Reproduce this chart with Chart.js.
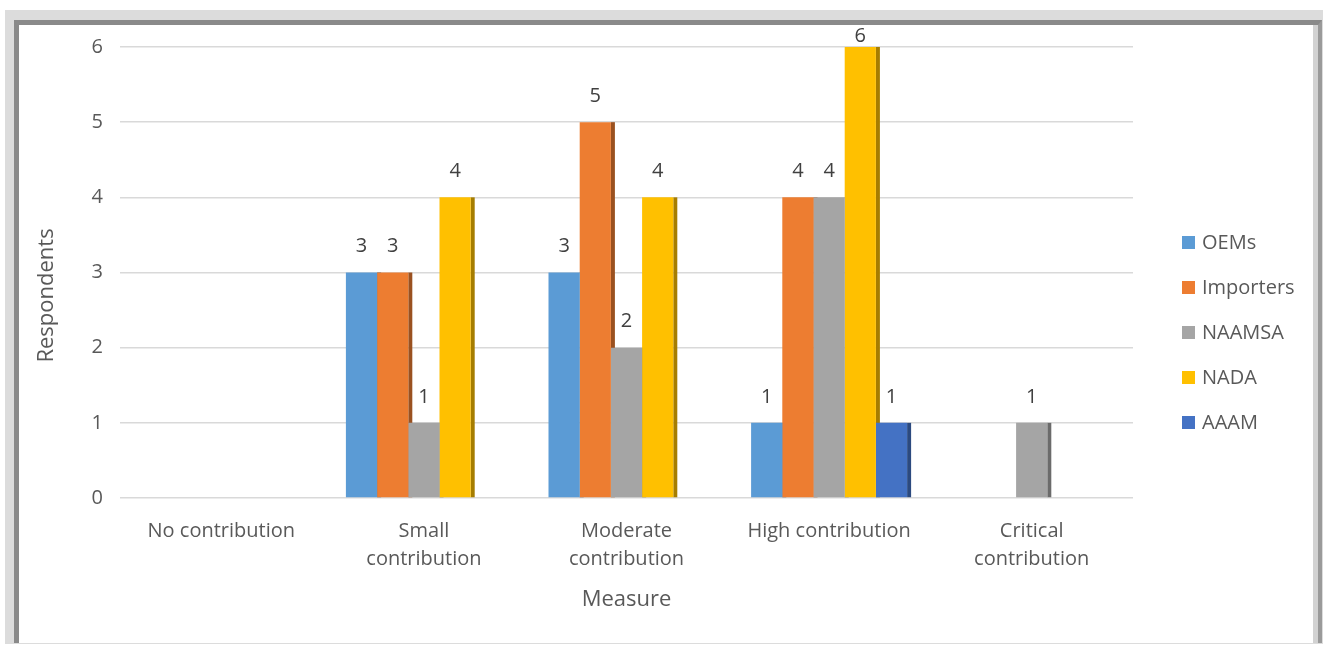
<!DOCTYPE html>
<html>
<head>
<meta charset="utf-8">
<title>Respondents by measure</title>
<script src="https://cdn.jsdelivr.net/npm/chart.js@4.4.1/dist/chart.umd.min.js"></script>
<style>
    body { margin: 0; width: 1329px; height: 646px; overflow: hidden; background: #fff; font-family: "Open Sans", sans-serif; }
    .bevel { position: absolute; left: 5px; top: 10px; width: 1318px; height: 634px; background: #dcdcdc; }
    .panel {
        position: absolute; left: 14px; top: 20px; width: 1299px; height: 618px; background: #fff;
        border-left: 5px solid #8a8a8a; border-top: 5px solid #8a8a8a; border-right: 4px solid #9a9a9a;
        box-shadow: inset -5px 0 0 #d2d2d2;
    }
    #chart { position: absolute; left: 19px; top: 18px; }
    .legend { position: absolute; left: 1182px; top: 230px; margin: 0; padding: 0; list-style: none; }
    .legend li { height: 45px; display: flex; align-items: flex-start; color: #595959; font-size: 20px; line-height: 24px; }
    .legend span { width: 13px; height: 13px; margin: 6px 7px 0 0; flex: none; }
</style>
</head>
<body>
<div class="bevel"></div>
<div class="panel"></div>
<canvas id="chart" width="1294" height="625"></canvas>
<ul class="legend" id="legend"></ul>

<script>
    // categories on the x axis (multi-line where the label wraps)
    const categories = [
        ["No contribution"],
        ["Small", "contribution"],
        ["Moderate", "contribution"],
        ["High contribution"],
        ["Critical", "contribution"],
    ];

    const seriesNames = ["OEMs", "Importers", "NAAMSA", "NADA", "AAAM"];
    const seriesColors = ["#5B9BD5", "#ED7D31", "#A5A5A5", "#FFC000", "#4472C4"];

    // respondents per category, null = no bar
    const oems = [null, 3, 3, 1, null];
    const importers = [null, 3, 5, 4, null];
    const naamsa = [null, 1, 2, 4, 1];
    const nada = [null, 4, 4, 6, null];
    const aaam = [null, null, null, 1, null];

    const yTicks = [0, 1, 2, 3, 4, 5, 6];

    const textColor = "#595959";
    const fontFamily = "'Open Sans', sans-serif";

    function darken(hex, f) {
        const n = parseInt(hex.slice(1), 16);
        const r = Math.round(((n >> 16) & 255) * f);
        const g = Math.round(((n >> 8) & 255) * f);
        const b = Math.round((n & 255) * f);
        return `rgb(${r},${g},${b})`;
    }

    // thin dark strip on the right of each bar (drawn under the bars)
    const barShadow = {
        id: "barShadow",
        beforeDatasetsDraw(chart) {
            const ctx = chart.ctx;
            ctx.save();
            chart.data.datasets.forEach((ds, i) => {
                const meta = chart.getDatasetMeta(i);
                meta.data.forEach((bar, j) => {
                    if (ds.data[j] == null) return;
                    const p = bar.getProps(["x", "y", "base", "width"], true);
                    ctx.fillStyle = darken(ds.backgroundColor, 0.65);
                    ctx.fillRect(p.x + p.width / 2, p.y, 4, p.base - p.y);
                });
            });
            ctx.restore();
        },
    };

    // value above every bar, kept inside the top of the frame
    const valueLabels = {
        id: "valueLabels",
        afterDatasetsDraw(chart) {
            const ctx = chart.ctx;
            const minY = chart.chartArea.top - 11;
            ctx.save();
            ctx.font = `20px ${fontFamily}`;
            ctx.fillStyle = "#404040";
            ctx.textAlign = "center";
            ctx.textBaseline = "middle";
            chart.data.datasets.forEach((ds, i) => {
                chart.getDatasetMeta(i).data.forEach((bar, j) => {
                    if (ds.data[j] == null) return;
                    ctx.fillText(String(ds.data[j]), bar.x, Math.max(bar.y - 26, minY));
                });
            });
            ctx.restore();
        },
    };

    // y axis title, centred over plot + category labels
    const yTitle = {
        id: "yTitle",
        afterDraw(chart) {
            const { ctx, chartArea } = chart;
            ctx.save();
            ctx.translate(28, (chartArea.top + chartArea.bottom) / 2 + 23);
            ctx.rotate(-Math.PI / 2);
            ctx.font = `22px ${fontFamily}`;
            ctx.fillStyle = textColor;
            ctx.textAlign = "center";
            ctx.textBaseline = "middle";
            ctx.fillText("Respondents", 0, 0);
            ctx.restore();
        },
    };

    const seriesData = [oems, importers, naamsa, nada, aaam];

    const chart = new Chart(document.getElementById("chart"), {
        type: "bar",
        data: {
            labels: categories,
            datasets: seriesNames.map((name, i) => ({
                label: name,
                data: seriesData[i],
                backgroundColor: seriesColors[i],
                borderWidth: 0,
                categoryPercentage: 0.77,
                barPercentage: 1.0,
            })),
        },
        options: {
            responsive: false,
            animation: false,
            layout: { padding: { top: 14, right: 180, bottom: 30, left: 0 } },
            plugins: {
                legend: { display: false },
                tooltip: { enabled: false },
            },
            scales: {
                x: {
                    afterFit(scale) { scale.height = 115; },
                    grid: { display: false, drawTicks: false },
                    border: { display: false },
                    ticks: { color: textColor, font: { family: fontFamily, size: 20, lineHeight: 28 / 20 }, padding: 19, maxRotation: 0 },
                    title: { display: true, text: "Measure", color: textColor, font: { family: fontFamily, size: 22 }, padding: 0 },
                },
                y: {
                    min: 0,
                    max: yTicks[yTicks.length - 1],
                    afterBuildTicks(scale) { scale.ticks = yTicks.map((v) => ({ value: v })); },
                    afterFit(scale) { scale.width = 101; },
                    grid: { color: "#d9d9d9", lineWidth: 1.5, drawTicks: false },
                    border: { display: false },
                    ticks: { color: textColor, font: { family: fontFamily, size: 20 }, padding: 17 },
                },
            },
        },
        plugins: [barShadow, valueLabels, yTitle],
    });

    // legend list built from the same series
    document.getElementById("legend").innerHTML = seriesNames
        .map((name, i) => `<li><span style="background:${seriesColors[i]}"></span>${name}</li>`)
        .join("");
</script>
</body>
</html>
